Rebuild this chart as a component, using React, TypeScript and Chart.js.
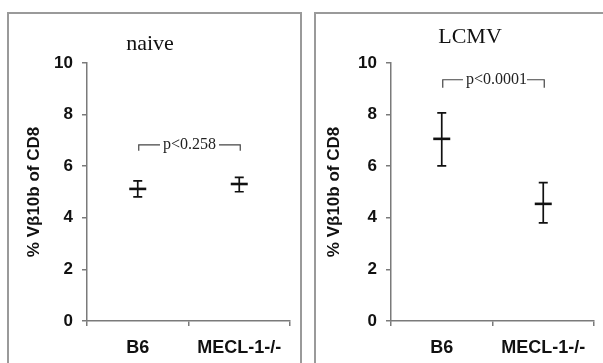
import React, { useEffect, useRef } from "react";
import { Chart, registerables } from "chart.js";

Chart.register(...registerables);

const categories = ["B6", "MECL-1-/-"];
const yTicks = [0, 2, 4, 6, 8, 10];

const naiveMean = [5.12, 5.31];
const naiveUpper = [5.43, 5.57];
const naiveLower = [4.81, 5.01];
const naiveBracketLevel = 6.83;
const naiveBracketArm = 6.6;
const naivePText = "p<0.258";

const lcmvMean = [7.06, 4.54];
const lcmvUpper = [8.07, 5.36];
const lcmvLower = [6.01, 3.8];
const lcmvBracketLevel = 9.35;
const lcmvBracketArm = 9.04;
const lcmvPText = "p<0.0001";

const yTitle = "% V\u03b210b of CD8";

const SANS = "'Liberation Sans', Arial, sans-serif";

const errorBarPlugin = {
  id: "errorBars",
  beforeDatasetsDraw(chart: any, _args: any, opts: any) {
    const xs = chart.scales.x;
    const ys = chart.scales.y;
    const ctx = chart.ctx;
    ctx.save();
    ctx.strokeStyle = "#111";
    ctx.lineWidth = 1.7;
    (opts.upper || []).forEach((u: number, i: number) => {
      const l = opts.lower[i];
      const x = xs.getPixelForValue(i);
      const yu = ys.getPixelForValue(u);
      const yl = ys.getPixelForValue(l);
      ctx.beginPath();
      ctx.moveTo(x, yu);
      ctx.lineTo(x, yl);
      ctx.moveTo(x - 4.5, yu);
      ctx.lineTo(x + 4.5, yu);
      ctx.moveTo(x - 4.5, yl);
      ctx.lineTo(x + 4.5, yl);
      ctx.stroke();
    });
    ctx.restore();
  },
};

const bracketPlugin = {
  id: "bracket",
  afterDatasetsDraw(chart: any, _args: any, opts: any) {
    if (!opts || opts.text === undefined) return;
    const xs = chart.scales.x;
    const ys = chart.scales.y;
    const ctx = chart.ctx;
    const x0 = xs.getPixelForValue(0) + opts.dx0;
    const x1 = xs.getPixelForValue(1) + opts.dx1;
    const y = ys.getPixelForValue(opts.level);
    const ya = ys.getPixelForValue(opts.arm);
    ctx.save();
    ctx.strokeStyle = "#444";
    ctx.lineWidth = 1.2;
    ctx.beginPath();
    ctx.moveTo(x0, ya);
    ctx.lineTo(x0, y);
    ctx.lineTo(x1, y);
    ctx.lineTo(x1, ya);
    ctx.stroke();
    ctx.font = "16px 'Liberation Serif', serif";
    const w = ctx.measureText(opts.text).width;
    const cx = (x0 + x1) / 2 + opts.textDx;
    ctx.fillStyle = "#fff";
    ctx.fillRect(cx - w / 2 - opts.gapL, y - 8, w + opts.gapL + opts.gapR, 16);
    ctx.fillStyle = "#222";
    ctx.textAlign = "center";
    ctx.textBaseline = "middle";
    ctx.fillText(opts.text, cx, y);
    ctx.restore();
  },
};

const panelTitlePlugin = {
  id: "panelTitle",
  afterDraw(chart: any, _args: any, opts: any) {
    if (!opts || !opts.text) return;
    const ctx = chart.ctx;
    ctx.save();
    ctx.font = "22px 'Liberation Serif', serif";
    ctx.fillStyle = "#111";
    ctx.textAlign = "center";
    ctx.textBaseline = "alphabetic";
    ctx.fillText(opts.text, opts.x, opts.y);
    ctx.restore();
  },
};

type PanelProps = {
  left: number;
  width: number;
  yAxisWidth: number;
  titlePad: number;
  mean: number[];
  upper: number[];
  lower: number[];
  title: string;
  titleX: number;
  titleY: number;
  bracketLevel: number;
  bracketArm: number;
  pText: string;
  textDx: number;
  gapL: number;
  gapR: number;
};

function Panel(p: PanelProps) {
  const ref = useRef<HTMLCanvasElement>(null);
  const height = 351;
  useEffect(() => {
    if (!ref.current) return;
    const chart = new Chart(ref.current, {
      type: "line",
      data: {
        labels: categories,
        datasets: [
          {
            data: p.mean,
            showLine: false,
            pointStyle: "line",
            pointRadius: 8.5,
            pointHoverRadius: 8.5,
            pointBorderWidth: 2.6,
            borderColor: "#111",
            pointBorderColor: "#111",
          },
        ],
      },
      options: {
        responsive: false,
        animation: false,
        events: [],
        layout: { padding: { left: 0, right: p.width - p.yAxisWidth - 203, top: 51, bottom: 0 } },
        plugins: {
          legend: { display: false },
          tooltip: { enabled: false },
          errorBars: { upper: p.upper, lower: p.lower },
          bracket: {
            level: p.bracketLevel,
            arm: p.bracketArm,
            text: p.pText,
            dx0: 1,
            dx1: 1,
            textDx: p.textDx,
            gapL: p.gapL,
            gapR: p.gapR,
          },
          panelTitle: { text: p.title, x: p.titleX, y: p.titleY },
        } as any,
        scales: {
          x: {
            type: "category",
            offset: true,
            grid: {
              offset: true,
              drawOnChartArea: false,
              drawTicks: true,
              tickLength: 5,
              color: "#7a7a7a",
              lineWidth: 1.5,
            },
            border: { color: "#7a7a7a", width: 1.5 },
            ticks: {
              padding: 11,
              color: "#111",
              font: { family: SANS, size: 18, weight: "bold" },
              maxRotation: 0,
            },
            afterFit: (s: any) => {
              s.height = 42;
            },
          },
          y: {
            min: 0,
            max: 10,
            afterBuildTicks: (s: any) => {
              s.ticks = yTicks.map((v) => ({ value: v }));
            },
            grid: {
              drawOnChartArea: false,
              drawTicks: true,
              tickLength: 5,
              color: "#7a7a7a",
              lineWidth: 1.5,
            },
            border: { color: "#7a7a7a", width: 1.5 },
            ticks: {
              padding: 9,
              color: "#111",
              font: { family: SANS, size: 17, weight: "bold" },
            },
            title: {
              display: true,
              text: yTitle,
              color: "#111",
              font: { family: SANS, size: 17, weight: "bold" },
              padding: { top: p.titlePad, bottom: 0 },
            },
            afterFit: (s: any) => {
              s.width = p.yAxisWidth;
            },
          },
        },
      },
      plugins: [errorBarPlugin, bracketPlugin, panelTitlePlugin],
    } as any);
    return () => chart.destroy();
  }, []);
  return (
    <>
      <div
        style={{
          position: "absolute",
          left: p.left,
          top: 12,
          width: p.width,
          height: 400,
          border: "2px solid #9a9a9a",
          boxSizing: "border-box",
        }}
      />
      <canvas
        ref={ref}
        width={p.width}
        height={height}
        style={{ position: "absolute", left: p.left, top: 12, width: p.width, height }}
      />
    </>
  );
}

export default function App() {
  return (
    <div
      style={{
        position: "absolute",
        left: 0,
        top: 0,
        width: 603,
        height: 363,
        overflow: "hidden",
        background: "#fff",
      }}
    >
      <Panel
        left={7}
        width={295}
        yAxisWidth={80}
        titlePad={17}
        mean={naiveMean}
        upper={naiveUpper}
        lower={naiveLower}
        title="naive"
        titleX={143}
        titleY={38}
        bracketLevel={naiveBracketLevel}
        bracketArm={naiveBracketArm}
        pText={naivePText}
        textDx={0}
        gapL={3}
        gapR={3}
      />
      <Panel
        left={314}
        width={292}
        yAxisWidth={77}
        titlePad={10}
        mean={lcmvMean}
        upper={lcmvUpper}
        lower={lcmvLower}
        title="LCMV"
        titleX={156}
        titleY={31}
        bracketLevel={lcmvBracketLevel}
        bracketArm={lcmvBracketArm}
        pText={lcmvPText}
        textDx={3}
        gapL={3}
        gapR={0}
      />
    </div>
  );
}
